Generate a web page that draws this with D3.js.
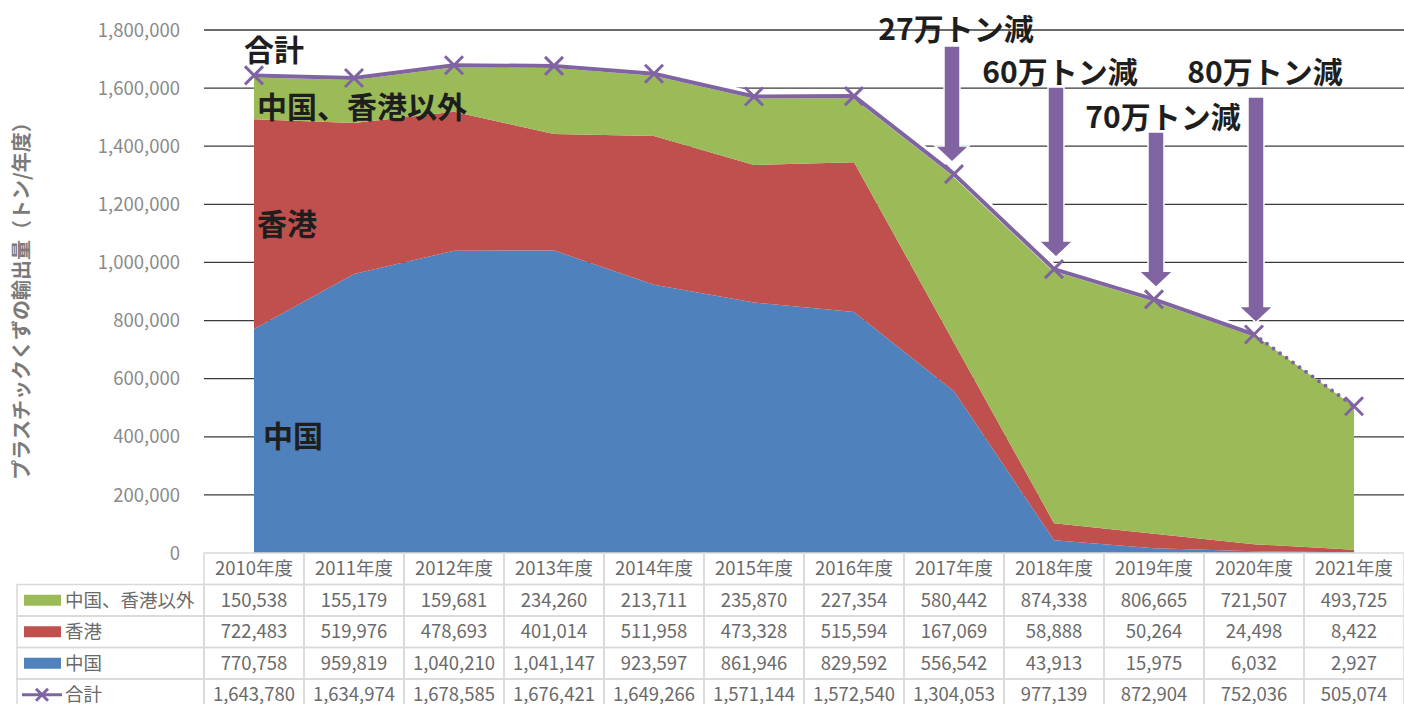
<!DOCTYPE html>
<html>
<head>
<meta charset="utf-8">
<script src="https://cdn.jsdelivr.net/npm/d3@7/dist/d3.min.js"></script>
<style>
  body { margin: 0; background: #fff; }
  text { font-family: "Noto Sans CJK JP", "Noto Sans", sans-serif; }
</style>
</head>
<body>
<div id="chart"></div>
<script>
var years = ['2010年度','2011年度','2012年度','2013年度','2014年度','2015年度','2016年度','2017年度','2018年度','2019年度','2020年度','2021年度']
var others = [150538,155179,159681,234260,213711,235870,227354,580442,874338,806665,721507,493725]
var hongkong = [722483,519976,478693,401014,511958,473328,515594,167069,58888,50264,24498,8422]
var china = [770758,959819,1040210,1041147,923597,861946,829592,556542,43913,15975,6032,2927]
var total = [1643780,1634974,1678585,1676421,1649266,1571144,1572540,1304053,977139,872904,752036,505074]
var yTicks = [0,200000,400000,600000,800000,1000000,1200000,1400000,1600000,1800000]

// annotations: which year, label, top of arrow shaft and label baseline (in tons)
var arrowIdx = [7, 8, 9, 10]
var arrowLabels = ['27万トン減','60万トン減','70万トン減','80万トン減']
var arrowTops = [1745000, 1604000, 1449000, 1569000]
var labelBase = [1765000, 1618000, 1463000, 1618000]
var labelShift = [2, 6, 9, 11]

var seriesNames = ['中国、香港以外','香港','中国','合計']
var colors = { others: '#9bbb59', hongkong: '#c0504d', china: '#4f81bd', total: '#8064a2' }

var W = 1404, H = 704
var pLeft = 204, pRight = 1404, pTop = 30, pBottom = 553

var svg = d3.select('#chart').append('svg').attr('width', W).attr('height', H)

var x = d3.scaleBand().domain(years).range([pLeft, pRight])
var cx = function(i){ return x(years[i]) + x.bandwidth() / 2 }
var y = d3.scaleLinear().domain([0, 1800000]).range([pBottom, pTop])

// gridlines
svg.append('g').selectAll('line')
  .data(yTicks.filter(function(d){ return d > 0 }))
  .enter().append('line')
  .attr('x1', pLeft).attr('x2', pRight)
  .attr('y1', function(d){ return y(d) }).attr('y2', function(d){ return y(d) })
  .attr('stroke', '#3a3a3a').attr('stroke-width', 1.3)

// tick labels
svg.append('g').selectAll('text')
  .data(yTicks)
  .enter().append('text')
  .attr('x', 180).attr('y', function(d){ return y(d) })
  .attr('dy', '0.36em')
  .attr('text-anchor', 'end')
  .attr('font-size', 18.5).attr('fill', '#8a8a8a')
  .text(function(d){ return d3.format(',')(d) })

// axis title
svg.append('text')
  .attr('transform', 'translate(29,' + 296 + ') rotate(-90)')
  .attr('text-anchor', 'middle')
  .attr('font-size', 20).attr('font-weight', 'bold').attr('fill', '#7a7a7a')
  .text('プラスチックくずの輸出量（トン/年度）')

// stacked areas
var rows = years.map(function(yr, i){
  return { i: i, china: china[i], hongkong: hongkong[i], others: others[i] }
})
var stack = d3.stack().keys(['china','hongkong','others'])
var layers = stack(rows)
var area = d3.area()
  .x(function(d){ return cx(d.data.i) })
  .y0(function(d){ return y(d[0]) })
  .y1(function(d){ return y(d[1]) })

svg.append('g').selectAll('path')
  .data(layers)
  .enter().append('path')
  .attr('d', area)
  .attr('fill', function(d){ return colors[d.key] })

// total line
var line = d3.line()
  .x(function(d){ return cx(d.i) })
  .y(function(d){ return y(d.v) })
var pts = total.map(function(v, i){ return { i: i, v: v } })

svg.append('path')
  .attr('d', line(pts.slice(0, 11)))
  .attr('fill', 'none').attr('stroke', '#fff').attr('stroke-width', 7)
  .attr('transform', 'translate(0,-1.5)')
svg.append('path')
  .attr('d', line(pts.slice(0, 11)))
  .attr('fill', 'none').attr('stroke', colors.total).attr('stroke-width', 4)
  .attr('stroke-linejoin', 'round')
svg.append('path')
  .attr('d', line(pts.slice(10)))
  .attr('fill', 'none').attr('stroke', colors.total).attr('stroke-width', 4)
  .attr('stroke-linecap', 'round').attr('stroke-dasharray', '0,8')

var cross = function(sel, s){
  sel.append('path')
    .attr('d', 'M' + (-s) + ',' + (-s) + 'L' + s + ',' + s + 'M' + (-s) + ',' + s + 'L' + s + ',' + (-s))
    .attr('stroke', colors.total).attr('stroke-width', 3).attr('fill', 'none')
}
svg.append('g').selectAll('g')
  .data(pts)
  .enter().append('g')
  .attr('transform', function(d){ return 'translate(' + cx(d.i) + ',' + y(d.v) + ')' })
  .call(cross, 9)

// arrows
arrowIdx.forEach(function(idx, k){
  var ax = cx(idx) + (k == 0 ? -2 : 2)
  var tip = y(total[idx]) - 12
  var headTop = tip - 16
  var t = y(arrowTops[k])
  var d = 'M' + (ax - 8) + ',' + t + 'L' + (ax + 8) + ',' + t + 'L' + (ax + 8) + ',' + headTop +
          'L' + (ax + 17) + ',' + headTop + 'L' + ax + ',' + tip + 'L' + (ax - 17) + ',' + headTop +
          'L' + (ax - 8) + ',' + headTop + 'Z'
  svg.append('path').attr('d', d).attr('fill', colors.total).attr('stroke', '#fff').attr('stroke-width', 1.5)
  svg.append('text')
    .attr('x', cx(idx) + labelShift[k]).attr('y', y(labelBase[k]))
    .attr('text-anchor', 'middle')
    .attr('font-size', 30).attr('font-weight', 'bold').attr('fill', '#1e1e1e')
    .text(arrowLabels[k])
})

// series labels inside chart
var inLabels = [
  { t: '合計', v: 1745000 },
  { t: '中国、香港以外', v: 1548000 },
  { t: '香港', v: 1145000 },
  { t: '中国', v: 415000 }
]
svg.append('g').selectAll('text')
  .data(inLabels)
  .enter().append('text')
  .attr('x', function(d, i){ return i == 0 ? 244 : (i == 3 ? 263 : 257) })
  .attr('y', function(d){ return y(d.v) })
  .attr('dy', '0.5em')
  .attr('font-size', 30).attr('font-weight', 'bold').attr('fill', '#1e1e1e')
  .text(function(d){ return d.t })

// data table
var rowH = 31.5
var tableTop = pBottom
var legendLeft = 17
var tableRows = [others, hongkong, china, total]
var tg = svg.append('g')
var border = '#d9d9d9'
var fs = 18.5

// header
years.forEach(function(yr, i){
  tg.append('rect')
    .attr('x', x(yr)).attr('y', tableTop)
    .attr('width', x.bandwidth()).attr('height', rowH)
    .attr('fill', 'none').attr('stroke', border).attr('stroke-width', 1.5)
  tg.append('text')
    .attr('x', cx(i)).attr('y', tableTop + rowH / 2)
    .attr('dy', '0.36em').attr('text-anchor', 'middle')
    .attr('font-size', fs).attr('fill', '#6a6a6a')
    .text(yr)
})

tableRows.forEach(function(arr, r){
  var ry = tableTop + rowH * (r + 1)
  tg.append('rect')
    .attr('x', legendLeft).attr('y', ry)
    .attr('width', pLeft - legendLeft).attr('height', rowH)
    .attr('fill', 'none').attr('stroke', border).attr('stroke-width', 1.5)
  var key = ['others','hongkong','china','total'][r]
  if (r < 3) {
    tg.append('rect')
      .attr('x', 24).attr('y', ry + rowH / 2 - 5.5)
      .attr('width', 37).attr('height', 11)
      .attr('fill', colors[key])
  } else {
    tg.append('line')
      .attr('x1', 22).attr('x2', 62).attr('y1', ry + rowH / 2).attr('y2', ry + rowH / 2)
      .attr('stroke', colors.total).attr('stroke-width', 3)
    tg.append('g').attr('transform', 'translate(42,' + (ry + rowH / 2) + ')').call(cross, 6)
  }
  tg.append('text')
    .attr('x', 65).attr('y', ry + rowH / 2)
    .attr('dy', '0.36em')
    .attr('font-size', fs).attr('fill', '#6a6a6a')
    .text(seriesNames[r])
  arr.forEach(function(v, i){
    tg.append('rect')
      .attr('x', x(years[i])).attr('y', ry)
      .attr('width', x.bandwidth()).attr('height', rowH)
      .attr('fill', 'none').attr('stroke', border).attr('stroke-width', 1.5)
    tg.append('text')
      .attr('x', cx(i)).attr('y', ry + rowH / 2)
      .attr('dy', '0.36em').attr('text-anchor', 'middle')
      .attr('font-size', fs).attr('fill', '#6a6a6a')
      .text(d3.format(',')(v))
  })
})
</script>
</body>
</html>
